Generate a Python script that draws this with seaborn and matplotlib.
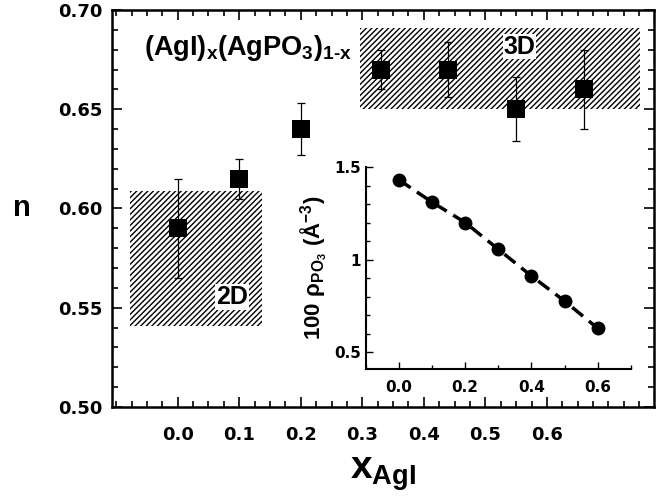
import numpy as np
import pandas as pd
import matplotlib
matplotlib.use("Agg")
import matplotlib.pyplot as plt
from matplotlib.patches import Rectangle
from matplotlib.ticker import MultipleLocator, FixedLocator
import seaborn as sns

# ---- data ----
x_main = [0.0, 0.1, 0.2, 0.33, 0.44, 0.55, 0.66]
n_vals = [0.590, 0.615, 0.640, 0.670, 0.670, 0.650, 0.660]
n_err = [0.025, 0.010, 0.013, 0.010, 0.014, 0.016, 0.020]

x_inset = [0.0, 0.1, 0.2, 0.3, 0.4, 0.5, 0.6]
rho_vals = [1.43, 1.31, 1.20, 1.056, 0.912, 0.777, 0.63]

main_xticks = [0.0, 0.1, 0.2, 0.3, 0.4, 0.5, 0.6]
main_yticks = [0.50, 0.55, 0.60, 0.65, 0.70]
inset_xticks = [0.0, 0.2, 0.4, 0.6]
inset_yticks = [0.5, 1.0, 1.5]
inset_ytick_labels = ["0.5", "1", "1.5"]

region_2d = dict(x0=-0.078, x1=0.137, y0=0.541, y1=0.609, label="2D")
region_3d = dict(x0=0.296, x1=0.751, y0=0.650, y1=0.691, label="3D")

sns.set_style("ticks")
plt.rcParams["font.family"] = ["Liberation Sans", "DejaVu Sans"]
plt.rcParams["font.weight"] = "bold"
plt.rcParams["mathtext.fontset"] = "custom"
plt.rcParams["mathtext.rm"] = "Liberation Sans:bold"
plt.rcParams["mathtext.it"] = "Liberation Sans:bold"
plt.rcParams["mathtext.bf"] = "Liberation Sans:bold"
plt.rcParams["mathtext.sf"] = "Liberation Sans:bold"
plt.rcParams["hatch.linewidth"] = 1.0
for k in ("text.color", "axes.labelcolor", "xtick.color", "ytick.color", "axes.edgecolor"):
    plt.rcParams[k] = "black"

TICKFONT = ["DejaVu Sans"]

fig = plt.figure(figsize=(6.66, 4.97), dpi=100)
ax = fig.add_axes([0.168, 0.181, 0.814, 0.799])

df_main = pd.DataFrame({"x": x_main, "n": n_vals, "err": n_err})

# hatched regions
for r in (region_2d, region_3d):
    ax.add_patch(Rectangle((r["x0"], r["y0"]), r["x1"] - r["x0"], r["y1"] - r["y0"],
                           fill=False, hatch="//////", lw=0, edgecolor="black", zorder=1))

ax.errorbar(df_main["x"], df_main["n"], yerr=df_main["err"], fmt="none",
            ecolor="black", elinewidth=0.9, capsize=3, capthick=0.9, zorder=2)
sns.scatterplot(data=df_main, x="x", y="n", marker="s", s=150, color="black",
                edgecolor="black", linewidth=0, ax=ax, zorder=3, legend=False)

ax.text(0.555, 0.6815, region_3d["label"], fontsize=18, fontweight="bold", ha="center", va="center",
        bbox=dict(facecolor="white", edgecolor="none", pad=0.5), zorder=4)
ax.text(0.088, 0.5555, region_2d["label"], fontsize=18, fontweight="bold", ha="center", va="center",
        bbox=dict(facecolor="white", edgecolor="none", pad=0.5), zorder=4)
ax.text(-0.055, 0.681, r"$\mathrm{(AgI)_x(AgPO_3)_{1\text{-}x}}$", fontsize=19.5,
        ha="left", va="center", zorder=4)

ax.set_xlim(-0.107, 0.774)
ax.set_ylim(0.50, 0.70)
ax.xaxis.set_major_locator(FixedLocator(main_xticks))
ax.xaxis.set_minor_locator(MultipleLocator(0.025))
ax.yaxis.set_major_locator(FixedLocator(main_yticks))
ax.yaxis.set_minor_locator(MultipleLocator(0.01))
ax.set_xticklabels([f"{v:.1f}" for v in main_xticks])
ax.set_yticklabels([f"{v:.2f}" for v in main_yticks])
ax.tick_params(which="both", direction="in", top=True, right=True, width=1.2,
               labelsize=13)
ax.tick_params(which="major", length=7)
ax.tick_params(which="minor", length=4)
ax.tick_params(axis="x", pad=14)
ax.tick_params(axis="y", pad=7)
for lab in ax.get_xticklabels() + ax.get_yticklabels():
    lab.set_fontweight("bold")
    lab.set_family(TICKFONT)
for sp in ax.spines.values():
    sp.set_linewidth(1.8)
ax.set_xlabel(r"$\mathrm{x_{AgI}}$", fontsize=28, labelpad=8)
ax.set_ylabel("n", fontsize=21, fontweight="bold", rotation=0, labelpad=26, va="center")

# ---- inset ----
axi = fig.add_axes([0.5495, 0.2575, 0.3975, 0.4065])
axi.patch.set_alpha(0)
df_in = pd.DataFrame({"x": x_inset, "rho": rho_vals})
sns.lineplot(data=df_in, x="x", y="rho", ax=axi, color="black", lw=2.5,
             dashes=False, linestyle=(0, (4, 2.2)), zorder=2)
sns.scatterplot(data=df_in, x="x", y="rho", ax=axi, color="black", s=100,
                linewidth=0, zorder=3, legend=False)
axi.set_xlim(-0.1, 0.7)
axi.set_ylim(0.41, 1.5)
axi.spines["top"].set_visible(False)
axi.spines["right"].set_visible(False)
for sp in ("left", "bottom"):
    axi.spines[sp].set_linewidth(1.5)
axi.xaxis.set_major_locator(FixedLocator(inset_xticks))
axi.xaxis.set_minor_locator(MultipleLocator(0.1))
axi.yaxis.set_major_locator(FixedLocator(inset_yticks))
axi.yaxis.set_minor_locator(MultipleLocator(0.1))
axi.set_xticklabels([f"{v:.1f}" for v in inset_xticks])
axi.set_yticklabels(inset_ytick_labels)
axi.tick_params(which="both", direction="in", width=1.0, labelsize=11)
axi.tick_params(which="major", length=5)
axi.tick_params(which="minor", length=3)
axi.tick_params(axis="x", pad=8)
for lab in axi.get_xticklabels() + axi.get_yticklabels():
    lab.set_fontweight("bold")
    lab.set_family(TICKFONT)
axi.set_xlabel("")
axi.set_ylabel(r"$\mathrm{100\ \rho_{PO_3}\ (\AA^{-3})}$", fontsize=16, labelpad=4)

fig.savefig("out.png", dpi=100)
